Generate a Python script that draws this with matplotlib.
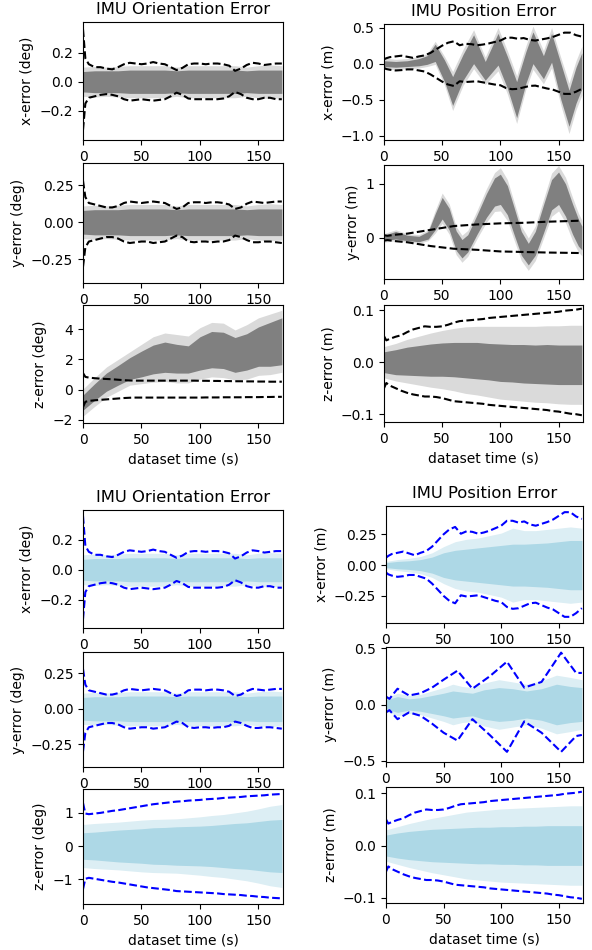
import numpy as np
import matplotlib.pyplot as plt

# time grids (s)
t_bnd = [0, 2, 5, 10, 15, 20, 25, 30, 35, 40, 45, 50, 55, 60, 65, 70, 75, 80, 85,
         90, 95, 100, 105, 110, 115, 120, 125, 130, 135, 140, 145, 150, 155, 160, 165, 170]
t10 = [0, 10, 20, 30, 40, 50, 60, 70, 80, 90, 100, 110, 120, 130, 140, 150, 160, 170]

# 3-sigma bounds
ori_x_up = [0.36, 0.16, 0.12, 0.10, 0.10, 0.09, 0.085, 0.10, 0.12, 0.13, 0.125, 0.12, 0.125, 0.135, 0.125, 0.12, 0.10, 0.08,
            0.095, 0.12, 0.125, 0.125, 0.12, 0.125, 0.125, 0.12, 0.11, 0.075, 0.09, 0.115, 0.13, 0.125, 0.115, 0.12, 0.125, 0.125]
ori_x_lo = [-0.33, -0.15, -0.11, -0.10, -0.09, -0.085, -0.09, -0.10, -0.12, -0.13, -0.125, -0.12, -0.125, -0.13, -0.125, -0.12, -0.10, -0.075,
            -0.09, -0.115, -0.12, -0.12, -0.12, -0.12, -0.12, -0.115, -0.10, -0.07, -0.085, -0.11, -0.12, -0.12, -0.11, -0.11, -0.12, -0.12]
ori_y_up = [0.28, 0.17, 0.13, 0.12, 0.11, 0.10, 0.10, 0.11, 0.13, 0.14, 0.135, 0.13, 0.135, 0.14, 0.135, 0.13, 0.11, 0.09,
            0.10, 0.13, 0.135, 0.135, 0.13, 0.135, 0.135, 0.13, 0.12, 0.09, 0.10, 0.125, 0.14, 0.135, 0.13, 0.135, 0.14, 0.14]
ori_y_lo = [-0.30, -0.17, -0.13, -0.12, -0.11, -0.10, -0.10, -0.11, -0.13, -0.14, -0.135, -0.13, -0.13, -0.14, -0.135, -0.13, -0.11, -0.09,
            -0.10, -0.13, -0.135, -0.13, -0.13, -0.135, -0.13, -0.13, -0.12, -0.09, -0.10, -0.12, -0.135, -0.135, -0.13, -0.13, -0.135, -0.14]
ori_z_up_1 = [1.1, 0.85, 0.8, 0.76, 0.73, 0.71, 0.69, 0.66, 0.63, 0.61, 0.6, 0.6, 0.6, 0.6, 0.6, 0.6, 0.6, 0.6,
              0.6, 0.6, 0.6, 0.59, 0.59, 0.58, 0.58, 0.57, 0.57, 0.56, 0.56, 0.55, 0.55, 0.54, 0.54, 0.53, 0.53, 0.53]
ori_z_lo_1 = [-1.15, -0.8, -0.74, -0.7, -0.67, -0.64, -0.61, -0.58, -0.55, -0.53, -0.52, -0.52, -0.52, -0.52, -0.52, -0.52, -0.52, -0.52,
              -0.52, -0.52, -0.52, -0.52, -0.51, -0.51, -0.51, -0.5, -0.5, -0.5, -0.5, -0.49, -0.49, -0.49, -0.48, -0.48, -0.47, -0.47]
ori_z_up_2 = [1.3, 0.98, 0.96, 0.98, 1.0, 1.03, 1.06, 1.08, 1.11, 1.14, 1.17, 1.2, 1.23, 1.26, 1.28, 1.3, 1.32, 1.34,
              1.35, 1.37, 1.38, 1.39, 1.41, 1.42, 1.43, 1.45, 1.46, 1.47, 1.48, 1.5, 1.51, 1.52, 1.53, 1.55, 1.56, 1.57]
ori_z_lo_2 = [-1.3, -0.99, -0.96, -0.99, -1.02, -1.05, -1.08, -1.1, -1.13, -1.16, -1.19, -1.22, -1.25, -1.27, -1.29, -1.31, -1.33, -1.36,
              -1.37, -1.38, -1.39, -1.4, -1.41, -1.42, -1.43, -1.45, -1.46, -1.47, -1.48, -1.5, -1.51, -1.53, -1.54, -1.56, -1.57, -1.58]
pos_x_up = [0.06, 0.075, 0.09, 0.10, 0.11, 0.095, 0.08, 0.10, 0.115, 0.15, 0.2, 0.25, 0.29, 0.31, 0.255, 0.275, 0.27, 0.255,
            0.265, 0.28, 0.30, 0.32, 0.36, 0.36, 0.345, 0.355, 0.33, 0.32, 0.335, 0.35, 0.37, 0.40, 0.43, 0.43, 0.395, 0.375]
pos_x_lo = [-0.06, -0.075, -0.085, -0.095, -0.09, -0.08, -0.08, -0.095, -0.11, -0.15, -0.2, -0.25, -0.29, -0.31, -0.245, -0.255, -0.25, -0.245,
            -0.26, -0.275, -0.29, -0.30, -0.34, -0.355, -0.35, -0.33, -0.31, -0.305, -0.325, -0.345, -0.36, -0.39, -0.42, -0.42, -0.39, -0.35]
# y position bounds: the raw run (smooth) and the de-meaned run (wavy)
t_posy_bnd_1 = [0, 3, 10, 20, 40, 60, 80, 100, 120, 140, 170]
pos_y_up_1 = [0.05, 0.04, 0.06, 0.08, 0.15, 0.22, 0.25, 0.27, 0.28, 0.3, 0.32]
pos_y_lo_1 = [-0.05, -0.04, -0.06, -0.08, -0.15, -0.2, -0.22, -0.25, -0.26, -0.27, -0.28]
t_posy_bnd_2 = [0, 3, 10, 20, 30, 40, 50, 62, 75, 90, 105, 120, 135, 152, 165, 170]
pos_y_up_2 = [0.07, 0.05, 0.14, 0.08, 0.1, 0.15, 0.22, 0.3, 0.14, 0.25, 0.38, 0.15, 0.2, 0.46, 0.28, 0.28]
pos_y_lo_2 = [-0.07, -0.05, -0.13, -0.07, -0.1, -0.17, -0.25, -0.32, -0.13, -0.27, -0.42, -0.15, -0.25, -0.42, -0.28, -0.27]
pos_z_up = [0.05, 0.042, 0.045, 0.049, 0.052, 0.058, 0.063, 0.066, 0.069, 0.068, 0.068, 0.069, 0.072, 0.076, 0.079, 0.08, 0.081, 0.082,
            0.083, 0.085, 0.086, 0.087, 0.088, 0.089, 0.09, 0.091, 0.092, 0.093, 0.094, 0.095, 0.096, 0.097, 0.099, 0.1, 0.101, 0.103]
pos_z_lo = [-0.05, -0.04, -0.045, -0.05, -0.055, -0.059, -0.062, -0.064, -0.066, -0.066, -0.067, -0.069, -0.072, -0.075, -0.076, -0.077, -0.078, -0.079,
            -0.08, -0.082, -0.083, -0.084, -0.085, -0.086, -0.087, -0.088, -0.089, -0.09, -0.091, -0.092, -0.094, -0.095, -0.097, -0.099, -0.1, -0.102]

# spread of the monte carlo runs: centre, dense half width, faint half width
zero18 = [0.0] * 18
ox_in = [0.07, 0.075, 0.075, 0.075, 0.08, 0.08, 0.08, 0.08, 0.075, 0.08, 0.08, 0.08, 0.08, 0.08, 0.075, 0.08, 0.08, 0.08]
ox_out = [0.1, 0.105, 0.1, 0.105, 0.11, 0.11, 0.11, 0.11, 0.1, 0.11, 0.11, 0.11, 0.11, 0.11, 0.1, 0.11, 0.115, 0.11]
oy_in = [0.08, 0.085, 0.085, 0.085, 0.09, 0.09, 0.09, 0.09, 0.085, 0.09, 0.09, 0.09, 0.09, 0.09, 0.085, 0.09, 0.09, 0.09]
oy_out = [0.11, 0.115, 0.11, 0.115, 0.12, 0.12, 0.12, 0.12, 0.11, 0.12, 0.12, 0.12, 0.12, 0.12, 0.11, 0.12, 0.125, 0.12]

oz_cen_1 = [-0.85, -0.15, 0.5, 0.95, 1.4, 1.7, 2.0, 2.15, 2.05, 2.0, 2.4, 2.65, 2.6, 2.3, 2.5, 2.85, 3.0, 3.2]
oz_in_1 = [0.5, 0.55, 0.6, 0.65, 0.72, 0.85, 0.95, 1.0, 0.95, 0.9, 1.1, 1.2, 1.2, 1.15, 1.2, 1.3, 1.45, 1.55]
oz_out_1 = [0.9, 0.95, 1.0, 1.05, 1.1, 1.3, 1.5, 1.6, 1.6, 1.55, 1.7, 1.8, 1.8, 1.65, 1.8, 1.9, 2.0, 2.05]
oz_in_2 = [0.4, 0.42, 0.45, 0.48, 0.5, 0.52, 0.55, 0.56, 0.58, 0.59, 0.6, 0.62, 0.65, 0.68, 0.7, 0.74, 0.78, 0.8]
oz_out_2 = [0.65, 0.68, 0.7, 0.72, 0.75, 0.78, 0.8, 0.81, 0.82, 0.85, 0.88, 0.92, 0.95, 1.0, 1.05, 1.12, 1.2, 1.25]

t_posx = [0, 10, 20, 30, 37, 44, 52, 59, 68, 77, 87, 98, 106, 114, 122, 128, 137, 144, 152, 159, 165, 170]
px_cen_1 = [0.0, -0.01, 0.0, 0.02, 0.05, 0.15, -0.1, -0.38, -0.05, 0.2, -0.1, 0.2, -0.12, -0.5, -0.05, 0.22, -0.05, 0.22, -0.25, -0.62, -0.3, -0.1]
px_in_1 = [0.04, 0.04, 0.04, 0.05, 0.06, 0.12, 0.15, 0.2, 0.18, 0.2, 0.13, 0.22, 0.22, 0.25, 0.22, 0.22, 0.16, 0.2, 0.25, 0.25, 0.25, 0.25]
px_out_1 = [0.08, 0.07, 0.07, 0.08, 0.09, 0.16, 0.2, 0.27, 0.25, 0.27, 0.19, 0.3, 0.3, 0.33, 0.3, 0.3, 0.23, 0.28, 0.33, 0.35, 0.34, 0.34]
px_in_2 = [0.02, 0.03, 0.035, 0.045, 0.065, 0.1, 0.12, 0.13, 0.14, 0.15, 0.16, 0.17, 0.17, 0.175, 0.18, 0.19, 0.2, 0.2]
px_out_2 = [0.03, 0.045, 0.055, 0.07, 0.1, 0.15, 0.19, 0.21, 0.22, 0.24, 0.26, 0.3, 0.28, 0.28, 0.29, 0.3, 0.31, 0.3]

t_posy_1 = [0, 10, 20, 30, 38, 44, 50, 56, 62, 67, 72, 80, 88, 95, 100, 106, 112, 118, 124, 130, 137, 144, 150, 156, 162, 167, 170]
py_cen_1 = [0.0, 0.05, 0.0, -0.02, 0.05, 0.3, 0.55, 0.35, -0.05, -0.2, -0.1, 0.25, 0.6, 0.85, 0.9, 0.7, 0.3, -0.1, -0.3,
            -0.1, 0.35, 0.8, 0.92, 0.7, 0.35, 0.1, 0.0]
py_in_1 = [0.05, 0.07, 0.05, 0.05, 0.07, 0.15, 0.2, 0.2, 0.18, 0.17, 0.16, 0.18, 0.22, 0.26, 0.28, 0.27, 0.25, 0.22, 0.2,
           0.22, 0.26, 0.28, 0.3, 0.3, 0.28, 0.25, 0.22]
py_out_1 = [0.08, 0.1, 0.08, 0.08, 0.1, 0.21, 0.28, 0.28, 0.26, 0.25, 0.24, 0.26, 0.31, 0.36, 0.4, 0.38, 0.35, 0.32, 0.3,
            0.32, 0.36, 0.4, 0.42, 0.42, 0.4, 0.36, 0.33]
t_posy_2 = [0, 10, 20, 30, 40, 50, 58, 66, 75, 85, 98, 110, 122, 135, 148, 160, 170]
py_in_2 = [0.04, 0.07, 0.05, 0.06, 0.08, 0.1, 0.12, 0.11, 0.1, 0.13, 0.15, 0.14, 0.12, 0.14, 0.18, 0.16, 0.15]
py_out_2 = [0.06, 0.1, 0.08, 0.09, 0.12, 0.15, 0.18, 0.16, 0.15, 0.19, 0.22, 0.2, 0.18, 0.21, 0.26, 0.24, 0.22]

pz_cen_1 = [0.0, 0.0, 0.002, 0.003, 0.004, 0.005, 0.005, 0.004, 0.003, 0.001, -0.001, -0.002, -0.003, -0.004, -0.004, -0.005, -0.005, -0.005]
pz_in = [0.02, 0.024, 0.027, 0.029, 0.031, 0.032, 0.033, 0.034, 0.035, 0.035, 0.036, 0.036, 0.037, 0.037, 0.038, 0.038, 0.038, 0.038]
pz_out = [0.03, 0.036, 0.042, 0.047, 0.052, 0.056, 0.06, 0.064, 0.066, 0.068, 0.07, 0.071, 0.072, 0.073, 0.074, 0.075, 0.076, 0.076]


def rect(l, t, r, b):
    return [l / 592, 1 - b / 950, (r - l) / 592, (b - t) / 950]


def panel(pos, tb, cen, half_in, half_out, tbd, up, lo, fill, faint, dash, ylim, yticks, ylabel,
          title=None, xlabel=False):
    ax = fig.add_axes(rect(*pos))
    cen = np.array(cen)
    ax.fill_between(tb, cen - np.array(half_out), cen + np.array(half_out), color=faint, lw=0)
    ax.fill_between(tb, cen - np.array(half_in), cen + np.array(half_in), color=fill, lw=0)
    ax.plot(tbd, up, '--', color=dash, lw=1.5)
    ax.plot(tbd, lo, '--', color=dash, lw=1.5)
    ax.set_xlim(0, 171)
    ax.set_xticks([0, 50, 100, 150])
    ax.set_ylim(*ylim)
    ax.set_yticks(yticks)
    ax.set_ylabel(ylabel, fontsize=10)
    ax.tick_params(labelsize=10)
    if title:
        ax.set_title(title, fontsize=11.8)
    if xlabel:
        ax.set_xlabel('dataset time (s)', fontsize=10)
    return ax


fig = plt.figure(figsize=(5.92, 9.5), dpi=100)

g1, g2, k = 'gray', '#dadada', 'k'
b1, b2, bl = 'lightblue', '#dceef4', 'b'

# first figure: raw errors
panel((83, 22, 283, 140), t10, zero18, ox_in, ox_out, t_bnd, ori_x_up, ori_x_lo, g1, g2, k,
      (-0.40, 0.41), [-0.2, 0.0, 0.2], 'x-error (deg)', title='IMU Orientation Error')
panel((83, 163, 283, 283), t10, zero18, oy_in, oy_out, t_bnd, ori_y_up, ori_y_lo, g1, g2, k,
      (-0.41, 0.40), [-0.25, 0.0, 0.25], 'y-error (deg)')
panel((83, 305, 283, 423), t10, oz_cen_1, oz_in_1, oz_out_1, t_bnd, ori_z_up_1, ori_z_lo_1, g1, g2, k,
      (-2.2, 5.6), [-2, 0, 2, 4], 'z-error (deg)', xlabel=True)
panel((384, 24, 583, 140), t_posx, px_cen_1, px_in_1, px_out_1, t_bnd, pos_x_up, pos_x_lo, g1, g2, k,
      (-1.06, 0.55), [-1.0, -0.5, 0.0, 0.5], 'x-error (m)', title='IMU Position Error')
panel((384, 165, 583, 279), t_posy_1, py_cen_1, py_in_1, py_out_1, t_posy_bnd_1, pos_y_up_1, pos_y_lo_1, g1, g2, k,
      (-0.76, 1.35), [0, 1], 'y-error (m)')
panel((384, 305, 583, 422), t10, pz_cen_1, pz_in, pz_out, t_bnd, pos_z_up, pos_z_lo, g1, g2, k,
      (-0.115, 0.11), [-0.1, 0.0, 0.1], 'z-error (m)', xlabel=True)

# second figure: errors about the mean
panel((83, 510, 283, 628), t10, zero18, ox_in, ox_out, t_bnd, ori_x_up, ori_x_lo, b1, b2, bl,
      (-0.39, 0.40), [-0.2, 0.0, 0.2], 'x-error (deg)', title='IMU Orientation Error')
panel((83, 652, 283, 767), t10, zero18, oy_in, oy_out, t_bnd, ori_y_up, ori_y_lo, b1, b2, bl,
      (-0.41, 0.40), [-0.25, 0.0, 0.25], 'y-error (deg)')
panel((83, 789, 283, 904), t10, zero18, oz_in_2, oz_out_2, t_bnd, ori_z_up_2, ori_z_lo_2, b1, b2, bl,
      (-1.75, 1.72), [-1, 0, 1], 'z-error (deg)', xlabel=True)
panel((386, 506, 583, 623), t10, zero18, px_in_2, px_out_2, t_bnd, pos_x_up, pos_x_lo, b1, b2, bl,
      (-0.47, 0.48), [-0.25, 0.0, 0.25], 'x-error (m)', title='IMU Position Error')
panel((386, 647, 583, 762), t_posy_2, [0.0] * 17, py_in_2, py_out_2, t_posy_bnd_2, pos_y_up_2, pos_y_lo_2, b1, b2, bl,
      (-0.51, 0.51), [-0.5, 0.0, 0.5], 'y-error (m)')
panel((386, 787, 583, 903), t10, zero18, pz_in, pz_out, t_bnd, pos_z_up, pos_z_lo, b1, b2, bl,
      (-0.11, 0.112), [-0.1, 0.0, 0.1], 'z-error (m)', xlabel=True)

fig.savefig('out.png', dpi=100)
